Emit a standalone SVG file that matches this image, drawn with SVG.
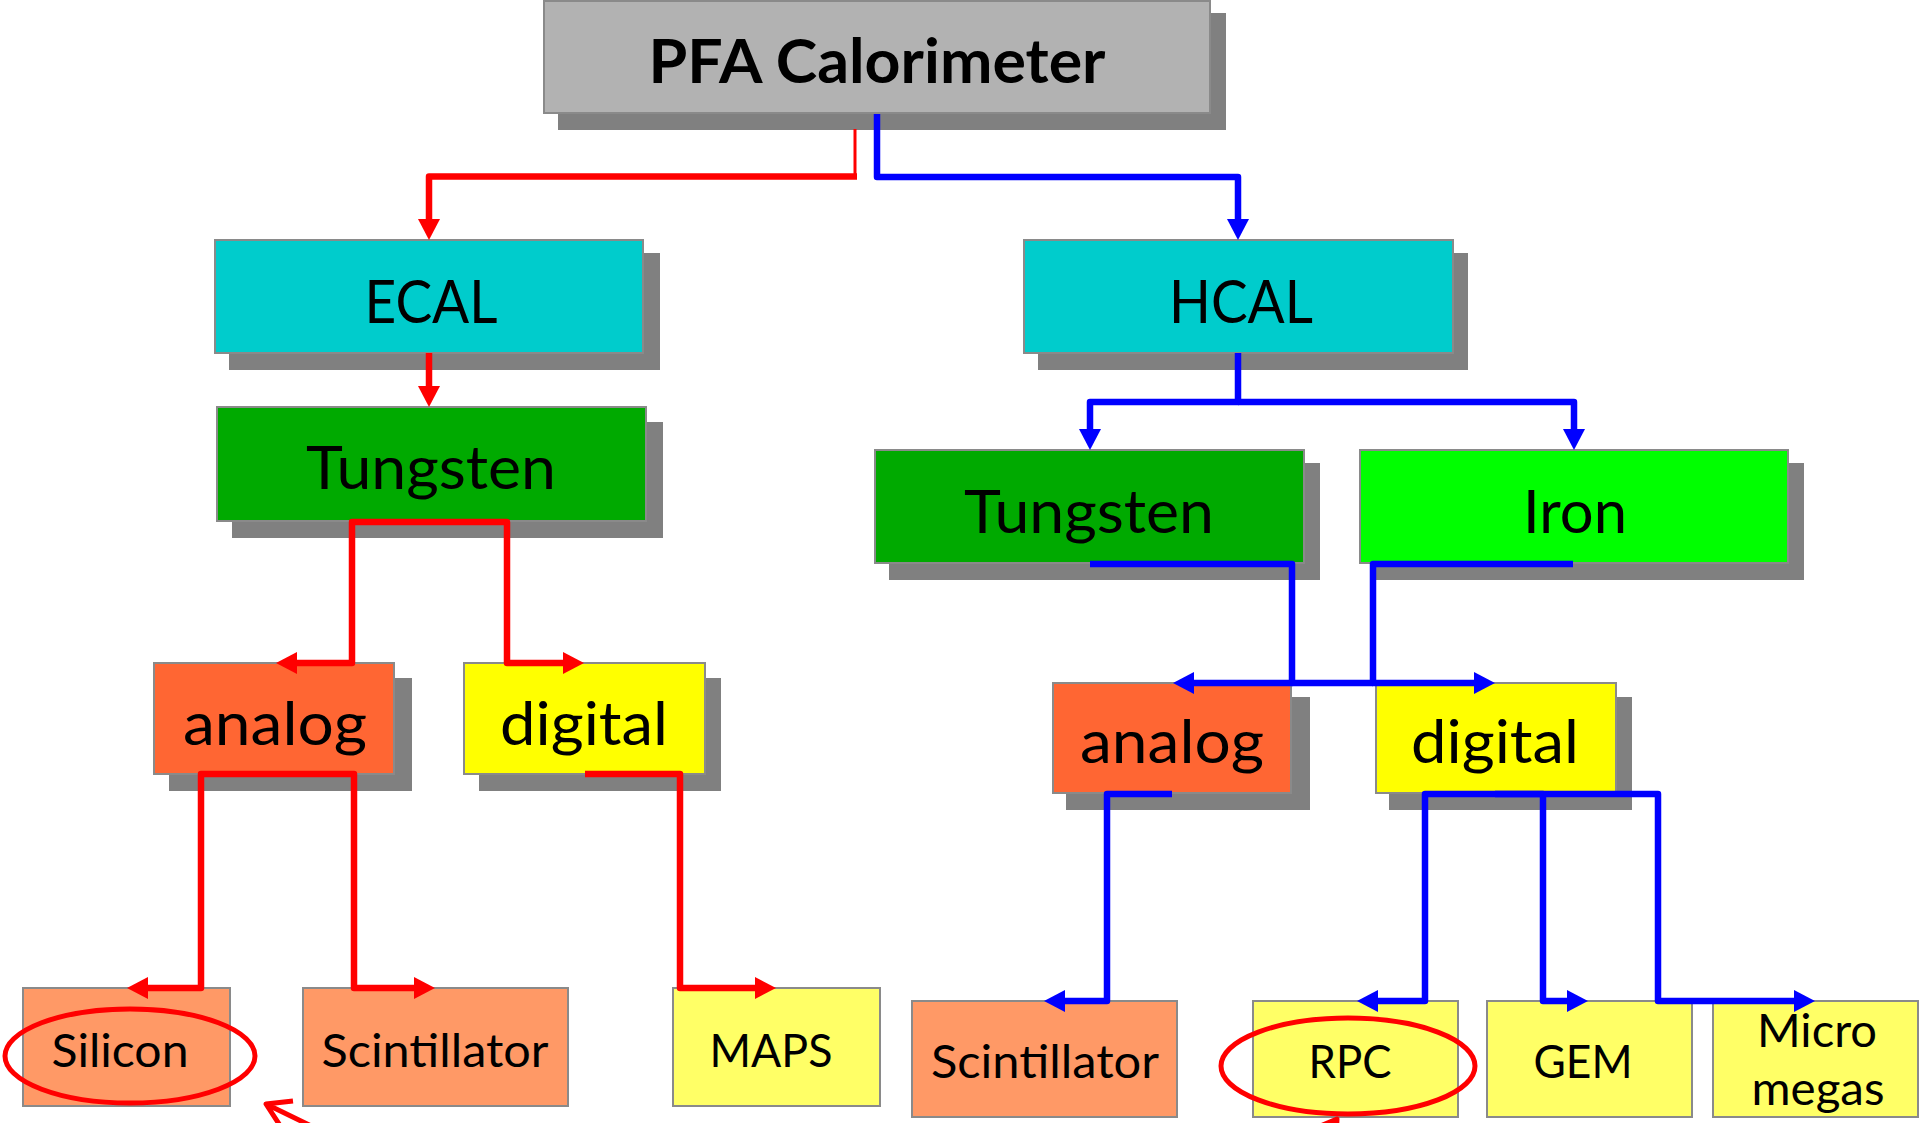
<svg xmlns="http://www.w3.org/2000/svg" width="1920" height="1123" viewBox="0 0 1920 1123">
<style>
.sh{fill:#808080;}
.bx{stroke:#8a8a8a;stroke-width:2;}
.t{font-family:Lato,"Open Sans","Liberation Sans",sans-serif;fill:#000;text-anchor:middle;}
.big{font-size:62px;font-weight:bold;}
.mid{font-size:60px;}
.sm{font-size:46px;}
.r{fill:none;stroke:#FF0000;stroke-width:6.5;stroke-linejoin:round;}
.b{fill:none;stroke:#0000FF;stroke-width:6.5;stroke-linejoin:round;}
.ann{fill:none;stroke:#FF0000;stroke-width:5;}
</style>
<defs>
<marker id="ar" markerUnits="userSpaceOnUse" markerWidth="22" markerHeight="22" refX="6" refY="11" orient="auto" viewBox="0 0 21 22"><path d="M0,0 L21,11 L0,22 z" fill="#FF0000"/></marker>
<marker id="ab" markerUnits="userSpaceOnUse" markerWidth="22" markerHeight="22" refX="6" refY="11" orient="auto" viewBox="0 0 21 22"><path d="M0,0 L21,11 L0,22 z" fill="#0000FF"/></marker>
</defs>
<rect width="1920" height="1123" fill="#FFFFFF"/>

<g id="pfa">
<rect class="sh" x="558" y="13" width="668" height="117"/>
<rect class="bx" x="544" y="1" width="666" height="112" fill="#B2B2B2"/>
<text class="t big" x="877" y="83" textLength="457" lengthAdjust="spacingAndGlyphs">PFA Calorimeter</text>
</g>
<g id="ecal">
<rect class="sh" x="229" y="253" width="431" height="117"/>
<rect class="bx" x="215" y="240" width="428" height="113" fill="#00CCCC"/>
<text class="t mid" x="431" y="323" textLength="133" lengthAdjust="spacingAndGlyphs">ECAL</text>
</g>
<g id="hcal">
<rect class="sh" x="1038" y="253" width="430" height="117"/>
<rect class="bx" x="1024" y="240" width="429" height="113" fill="#00CCCC"/>
<text class="t mid" x="1241" y="323" textLength="144" lengthAdjust="spacingAndGlyphs">HCAL</text>
</g>
<g id="ecal-tungsten">
<rect class="sh" x="232" y="422" width="431" height="116"/>
<rect class="bx" x="217" y="407" width="429" height="114" fill="#00AA00"/>
<text class="t mid" x="431" y="489" textLength="250" lengthAdjust="spacingAndGlyphs">Tungsten</text>
</g>
<g id="hcal-tungsten">
<rect class="sh" x="889" y="463" width="431" height="117"/>
<rect class="bx" x="875" y="450" width="429" height="113" fill="#00AA00"/>
<text class="t mid" x="1089" y="533" textLength="250" lengthAdjust="spacingAndGlyphs">Tungsten</text>
</g>
<g id="hcal-iron">
<rect class="sh" x="1374" y="463" width="430" height="117"/>
<rect class="bx" x="1360" y="450" width="428" height="113" fill="#00FF00"/>
<text class="t mid" x="1575" y="533" textLength="104" lengthAdjust="spacingAndGlyphs">Iron</text>
</g>
<g id="ecal-analog">
<rect class="sh" x="169" y="678" width="243" height="113"/>
<rect class="bx" x="154" y="663" width="240" height="111" fill="#FF6633"/>
<text class="t mid" x="275" y="745" textLength="184" lengthAdjust="spacingAndGlyphs">analog</text>
</g>
<g id="ecal-digital">
<rect class="sh" x="479" y="678" width="242" height="113"/>
<rect class="bx" x="464" y="663" width="241" height="111" fill="#FFFF00"/>
<text class="t mid" x="584" y="745" textLength="168" lengthAdjust="spacingAndGlyphs">digital</text>
</g>
<g id="hcal-analog">
<rect class="sh" x="1066" y="697" width="244" height="113"/>
<rect class="bx" x="1053" y="683" width="238" height="110" fill="#FF6633"/>
<text class="t mid" x="1172" y="763" textLength="184" lengthAdjust="spacingAndGlyphs">analog</text>
</g>
<g id="hcal-digital">
<rect class="sh" x="1389" y="697" width="243" height="113"/>
<rect class="bx" x="1376" y="683" width="240" height="110" fill="#FFFF00"/>
<text class="t mid" x="1495" y="763" textLength="168" lengthAdjust="spacingAndGlyphs">digital</text>
</g>
<g id="silicon">
<rect class="bx" x="23" y="988" width="207" height="118" fill="#FF9966"/>
<text class="t sm" x="120" y="1067" textLength="137" lengthAdjust="spacingAndGlyphs">Silicon</text>
</g>
<g id="ecal-scintillator">
<rect class="bx" x="303" y="988" width="265" height="118" fill="#FF9966"/>
<text class="t sm" x="435" y="1067" textLength="227" lengthAdjust="spacingAndGlyphs">Scintillator</text>
</g>
<g id="maps">
<rect class="bx" x="673" y="988" width="207" height="118" fill="#FFFF66"/>
<text class="t sm" x="771" y="1067" textLength="123" lengthAdjust="spacingAndGlyphs">MAPS</text>
</g>
<g id="hcal-scintillator">
<rect class="bx" x="912" y="1001" width="265" height="116" fill="#FF9966"/>
<text class="t sm" x="1045" y="1078" textLength="228" lengthAdjust="spacingAndGlyphs">Scintillator</text>
</g>
<g id="rpc">
<rect class="bx" x="1253" y="1001" width="205" height="116" fill="#FFFF66"/>
<text class="t sm" x="1350" y="1078" textLength="83" lengthAdjust="spacingAndGlyphs">RPC</text>
</g>
<g id="gem">
<rect class="bx" x="1487" y="1001" width="205" height="116" fill="#FFFF66"/>
<text class="t sm" x="1583" y="1078" textLength="99" lengthAdjust="spacingAndGlyphs">GEM</text>
</g>
<g id="micromegas">
<rect class="bx" x="1713" y="1001" width="205" height="116" fill="#FFFF66"/>
<text class="t sm" x="1817" y="1047" textLength="120" lengthAdjust="spacingAndGlyphs">Micro</text>
<text class="t sm" x="1818" y="1105" textLength="133" lengthAdjust="spacingAndGlyphs">megas</text>
</g>

<g id="connectors">
<path d="M855,129 V176" fill="none" stroke="#FF0000" stroke-width="3"/>
<path class="r" d="M857,176.5 H429 V225" marker-end="url(#ar)"/>
<path class="r" d="M429,353 V392" marker-end="url(#ar)"/>
<path class="r" d="M431,522 H352 V663 H291" marker-end="url(#ar)"/>
<path class="r" d="M431,522 H507 V663 H569" marker-end="url(#ar)"/>
<path class="r" d="M275,774 H201 V988 H142" marker-end="url(#ar)"/>
<path class="r" d="M275,774 H354 V988 H420" marker-end="url(#ar)"/>
<path class="r" d="M585,774 H680 V988 H761" marker-end="url(#ar)"/>
<path class="b" d="M877,114 V177 H1238 V225" marker-end="url(#ab)"/>
<path class="b" d="M1238,353 V402 H1090 V435" marker-end="url(#ab)"/>
<path class="b" d="M1238,402 H1574 V435" marker-end="url(#ab)"/>
<path class="b" d="M1090,564 H1292 V683 H1188" marker-end="url(#ab)"/>
<path class="b" d="M1573,564 H1373 V683 H1480" marker-end="url(#ab)"/>
<path class="b" d="M1292,683 H1373"/>
<path class="b" d="M1172,794 H1107 V1001 H1059" marker-end="url(#ab)"/>
<path class="b" d="M1495,794 H1425 V1001 H1372" marker-end="url(#ab)"/>
<path class="b" d="M1495,794 H1543 V1001 H1573" marker-end="url(#ab)"/>
<path class="b" d="M1495,794 H1658 V1001 H1800" marker-end="url(#ab)"/>
</g>

<g id="annotations">
<ellipse class="ann" cx="130" cy="1056" rx="125" ry="47"/>
<ellipse class="ann" cx="1348" cy="1066" rx="127" ry="48"/>
<path class="ann" d="M340,1140 L266,1104 M293,1101 L266,1104 L281,1127" stroke-linejoin="round"/>
<path class="ann" d="M1312,1160 L1337,1119 M1318,1127 L1337,1119 L1336,1140" stroke-linejoin="round"/>
</g>
</svg>
